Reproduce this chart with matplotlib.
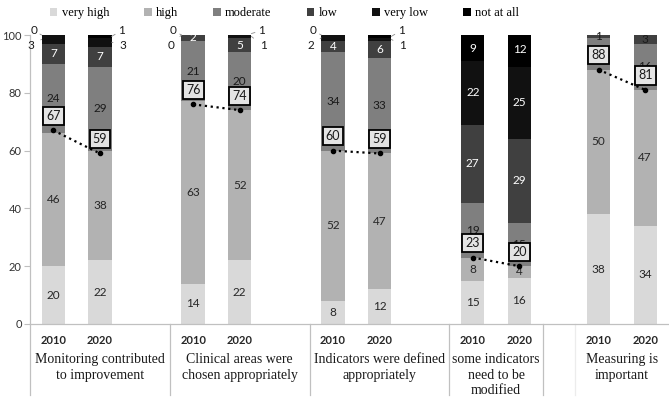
import matplotlib.pyplot as plt
from matplotlib.patches import Patch

# survey answers per statement, 2010 and 2020 side by side
categories = ["Monitoring contributed\nto improvement",
              "Clinical areas were\nchosen appropriately",
              "Indicators were defined\nappropriately",
              "some indicators\nneed to be\nmodified",
              "Measuring is\nimportant"]
years = ["2010", "2020"]
levels = ["very high", "high", "moderate", "low", "very low", "not at all"]

very_high = [20, 22, 14, 22, 8, 12, 15, 16, 38, 34]
high = [46, 38, 63, 52, 52, 47, 8, 4, 50, 47]
moderate = [24, 29, 21, 20, 34, 33, 19, 15, 11, 16]
low = [7, 7, 2, 5, 4, 6, 27, 29, 1, 3]
very_low = [3, 3, 0, 1, 2, 1, 22, 25, 0, 0]
not_at_all = [0, 1, 0, 1, 0, 1, 9, 12, 0, 0]
top_two = [67, 59, 76, 74, 60, 59, 23, 20, 88, 81]

series = [very_high, high, moderate, low, very_low, not_at_all]
colors = ['#d9d9d9', '#b2b2b2', '#7f7f7f', '#404040', '#111111', '#000000']
text_colors = ['#262626', '#262626', '#1a1a1a', 'white', 'white', 'white']

SANS = 'Lato'
SERIF = 'Liberation Serif'

group_start = [0, 3, 6, 9, 11.7]
label_pos = [1, 4, 7, 9.5, 12.2]
separators = [2.5, 5.5, 8.5, 10.5]
xs = []
for g in group_start:
    xs += [g, g + 1]

fig = plt.figure(figsize=(6.69, 3.98), dpi=100)
ax = fig.add_axes([30/669, 74/398, 639/669, 289/398])
w = 0.5

bottom = [0]*len(xs)
for i, vals in enumerate(series):
    ax.bar(xs, vals, w, bottom=bottom, color=colors[i], label=levels[i], zorder=2)
    for j, v in enumerate(vals):
        yc = bottom[j] + v/2
        if i >= 4 and j < 6:
            # small values outside the bar with a leader line
            left = (j % 2 == 0)
            if i == 5:
                dx, ly = (-0.42, 101.5) if left else (0.46, 101.5)
            else:
                dx, ly = (-0.48, 96.3) if left else (0.5, 96.3)
            edge = xs[j] - w/2 if left else xs[j] + w/2
            ax.annotate(str(v), xy=(edge, yc), xytext=(xs[j] + dx, ly),
                        ha='center', va='center', fontsize=8.5, family=SANS,
                        color='#1a1a1a', annotation_clip=False,
                        arrowprops=dict(arrowstyle='-', color='#8c8c8c', lw=0.6,
                                        shrinkA=3, shrinkB=0))
            continue
        if v == 0:
            continue
        c = text_colors[i]
        if j >= 8 and i == 3:
            c = '#1a1a1a'
        ax.text(xs[j], yc, str(v), ha='center', va='center', fontsize=8.5,
                family=SANS, color=c, zorder=3)
    bottom = [b + v for b, v in zip(bottom, vals)]

# top-two share boxes and dotted trend lines
for g in range(len(group_start)):
    a, b = 2*g, 2*g + 1
    ax.plot([xs[a], xs[b]], [top_two[a], top_two[b]], ls=':', color='black',
            lw=1.6, marker='o', ms=3, zorder=4)
    for j in (a, b):
        ax.text(xs[j], top_two[j] + 5, str(top_two[j]), ha='center', va='center',
                fontsize=9, family=SANS, color='#1a1a1a', zorder=6,
                bbox=dict(boxstyle='square,pad=0.25', fc='#e4e4e4', ec='black', lw=1.3))

ax.set_xlim(-0.5, 13.21)
ax.set_ylim(0, 100)
ax.set_yticks(range(0, 101, 20))
ax.set_xticks([])
ax.tick_params(axis='y', length=4, pad=2, color='#bfbfbf', labelsize=8, labelcolor='#333333')
for lab in ax.get_yticklabels():
    lab.set_family(SANS)
for s in ['top', 'right']:
    ax.spines[s].set_visible(False)
for s in ['left', 'bottom']:
    ax.spines[s].set_color('#c0c0c0')
    ax.spines[s].set_linewidth(0.9)

tr = ax.get_xaxis_transform()
for j, xv in enumerate(xs):
    ax.text(xv, -0.058, years[j % 2], transform=tr, ha='center', va='center',
            fontsize=8, fontweight='bold', family=SANS, color='#262626')
for cx, cat in zip(label_pos, categories):
    ax.text(cx, -0.1, cat, transform=tr, ha='center', va='top', fontsize=10,
            family=SERIF, color='#1a1a1a', linespacing=1.28)
for sx in [-0.5] + separators:
    ax.plot([sx, sx], [0, -0.245], transform=tr, color='#c0c0c0', lw=0.9, clip_on=False)
ax.plot([11.2, 11.2], [0, -0.245], transform=tr, color='#ececec', lw=0.9, clip_on=False)

handles = [Patch(fc=c, ec='none') for c in colors]
fig.legend(handles, levels, ncol=6, loc='upper center', bbox_to_anchor=(0.425, 1.01),
           frameon=False, prop={'family': SERIF, 'size': 9}, handlelength=0.6,
           handleheight=0.6, handletextpad=0.35, columnspacing=2.8)

fig.savefig('out.png', dpi=100)
